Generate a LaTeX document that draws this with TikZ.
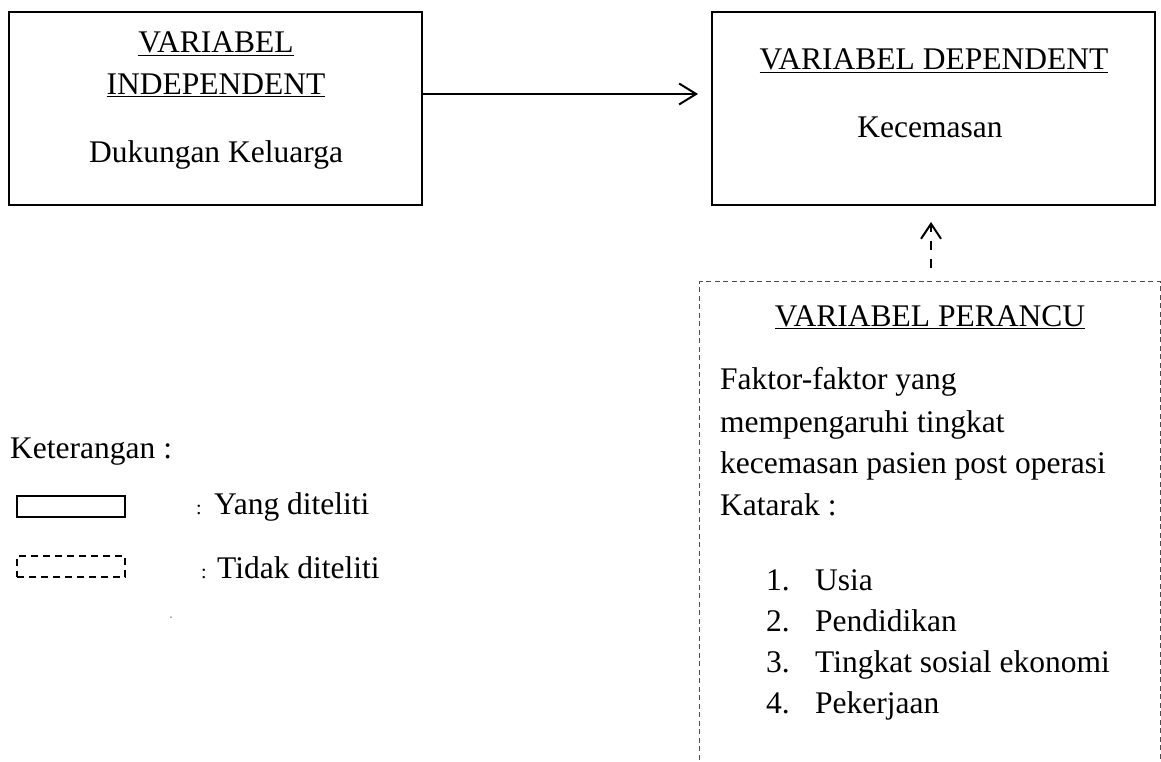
\documentclass[tikz,border=0pt]{standalone}
\usepackage{fontspec}
\setmainfont{Liberation Serif}
\usetikzlibrary{arrows.meta}
\begin{document}
\begin{tikzpicture}[x=1pt,y=-1pt,
  solidbox/.style={draw=black,line width=1.4pt,inner sep=0pt},
  dashbox/.style={draw=black!70,line width=1pt,dash pattern=on 5pt off 3.5pt,inner sep=0pt},
  txt/.style={inner sep=0pt,font=\fontsize{31.5}{41}\selectfont},
  small/.style={inner sep=0pt,font=\fontsize{20}{22}\selectfont},
  mainarrow/.style={line width=2pt,-{Straight Barb[length=17pt,width=21pt,line width=2pt]}},
  dasharrow/.style={line width=2pt,dash pattern=on 9pt off 9pt,-{Straight Barb[length=15pt,width=20pt,line width=2pt]}}
]
\path[use as bounding box,clip] (0,0) rectangle (1161,762);

% independent box
\node[solidbox,minimum width=413pt,minimum height=193pt] (indep) at (215.5,108.5) {};
\node[txt,anchor=base] (t1) at (216,53) {\underline{VARIABEL}};
\node[txt,anchor=base] (t2) at (216,95) {\underline{INDEPENDENT}};
\node[txt,anchor=base] (t3) at (216,163) {Dukungan Keluarga};

% dependent box
\node[solidbox,minimum width=443pt,minimum height=193pt] (dep) at (933.5,108.5) {};
\node[txt,anchor=base] (t4) at (934,70) {\underline{VARIABEL DEPENDENT}};
\node[txt,anchor=base] (t5) at (930,138) {Kecemasan};

% confounding box (runs past the page edge)
\node[dashbox,minimum width=461pt,minimum height=560pt,anchor=north west] (conf) at (699,281) {};
\coordinate (confstart) at (931,268);
\coordinate (depend) at (931,222);
\draw[dasharrow] (confstart) -- (depend);

\node[txt,anchor=base] (t6) at (930,326) {\underline{VARIABEL PERANCU}};
\node[txt,anchor=base west] (f1) at (720,389) {Faktor-faktor yang};
\node[txt,anchor=base west] (f2) at (720,432) {mempengaruhi tingkat};
\node[txt,anchor=base west] (f3) at (720,473) {kecemasan pasien post operasi};
\node[txt,anchor=base west] (f4) at (720,515) {Katarak :};

\node[txt,anchor=base west] (n1) at (766,590) {1.};
\node[txt,anchor=base west] (l1) at (815,590) {Usia};
\node[txt,anchor=base west] (n2) at (766,631) {2.};
\node[txt,anchor=base west] (l2) at (815,631) {Pendidikan};
\node[txt,anchor=base west] (n3) at (766,672) {3.};
\node[txt,anchor=base west] (l3) at (815,672) {Tingkat sosial ekonomi};
\node[txt,anchor=base west] (n4) at (766,713) {4.};
\node[txt,anchor=base west] (l4) at (815,713) {Pekerjaan};

% main arrow
\coordinate (arrend) at (698,94);
\draw[mainarrow] (indep.east |- arrend) -- (arrend);

% legend
\node[txt,anchor=base west] (ket) at (10,458) {Keterangan :};
\node[solidbox,line width=1.5pt,minimum width=108pt,minimum height=21pt,anchor=north west] (lg1) at (16,495) {};
\node[small,anchor=base west] (c1) at (196,514) {:};
\node[txt,anchor=base west] (y1) at (214,514) {Yang diteliti};
\node[dashbox,draw=black,line width=1.5pt,dash pattern=on 7pt off 5pt,minimum width=108pt,minimum height=21pt,anchor=north west] (lg2) at (16,555) {};
\node[small,anchor=base west] (c2) at (201,578) {:};
\node[txt,anchor=base west] (y2) at (217,578) {Tidak diteliti};
\node[fill=black!70,circle,inner sep=0pt,minimum size=1.5pt] (dot) at (171,617) {};
\end{tikzpicture}
\end{document}
